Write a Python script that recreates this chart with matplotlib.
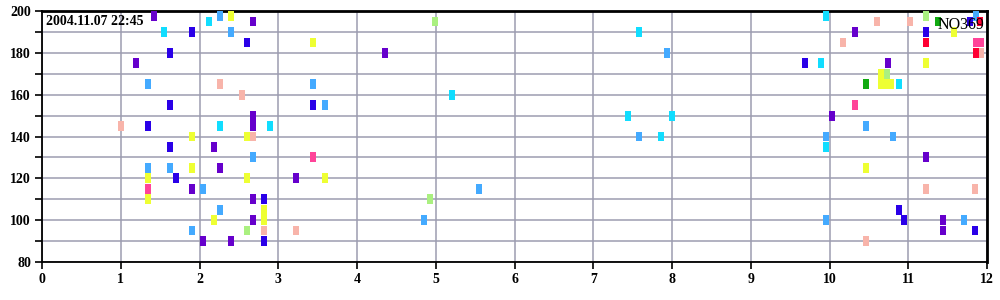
import matplotlib
matplotlib.use("Agg")
import matplotlib.pyplot as plt
from matplotlib.ticker import MultipleLocator

# observation points per colour class: x (hour-ish), y (value)
purple_x = [1.42, 1.19, 1.90, 2.05, 2.19, 2.26, 2.40, 2.675, 2.675, 2.675, 2.675, 2.675,
            3.23, 4.355, 10.03, 10.32, 10.74, 11.22, 11.44, 11.44]
purple_y = [197.5, 175, 115, 90, 135, 125, 90, 195, 150, 145, 110, 100,
            120, 180, 150, 190, 175, 130, 100, 95]

blue_x = [1.34, 1.62, 1.62, 1.62, 1.70, 1.90, 2.60, 2.815, 2.815, 3.445, 9.69, 10.88,
          10.95, 11.22, 11.78, 11.85]
blue_y = [145, 180, 155, 135, 120, 190, 185, 110, 90, 155, 175, 105,
          100, 190, 195, 95]

lblue_x = [1.34, 1.34, 1.62, 1.90, 2.04, 2.26, 2.26, 2.40, 2.675, 3.445, 3.59, 4.85,
           5.55, 7.58, 7.94, 9.96, 9.96, 10.46, 10.81, 11.71, 11.86]
lblue_y = [165, 125, 125, 95, 115, 197.5, 105, 190, 130, 165, 155, 100,
           115, 140, 180, 140, 100, 145, 140, 100, 197.5]

cyan_x = [1.55, 2.12, 2.26, 2.895, 5.21, 7.44, 7.58, 7.86, 8.0, 9.89, 9.96, 9.96, 10.88]
cyan_y = [190, 195, 145, 145, 160, 150, 190, 140, 150, 175, 197.5, 135, 165]

yellow_x = [1.34, 1.34, 1.90, 1.90, 2.19, 2.40, 2.60, 2.60, 2.815, 2.815, 3.445, 3.59,
            10.46, 10.66, 10.66, 10.72, 10.78, 11.22, 11.58]
yellow_y = [120, 110, 140, 125, 100, 197.5, 140, 120, 105, 100, 185, 120,
            125, 170, 165, 165, 165, 175, 190]

salmon_x = [1.0, 2.26, 2.54, 2.675, 2.815, 3.23, 10.17, 10.46, 10.60, 11.02, 11.22, 11.85, 11.92]
salmon_y = [145, 165, 160, 140, 95, 95, 185, 90, 195, 195, 115, 115, 180]

hpink_x = [1.34, 3.445, 10.32, 11.86, 11.92]
hpink_y = [115, 130, 155, 185, 185]

lgreen_x = [2.60, 4.99, 4.93, 10.73, 11.22]
lgreen_y = [95, 195, 110, 170, 197.5]

green_x = [10.46, 11.38]
green_y = [165, 195]

red_x = [11.22, 11.91, 11.86]
red_y = [185, 195, 180]

groups = [
    (purple_x, purple_y, "#6600cc"),
    (blue_x, blue_y, "#2a00e8"),
    (lblue_x, lblue_y, "#44aaff"),
    (cyan_x, cyan_y, "#11ddff"),
    (salmon_x, salmon_y, "#f8b4aa"),
    (hpink_x, hpink_y, "#ff4499"),
    (yellow_x, yellow_y, "#eeff33"),
    (lgreen_x, lgreen_y, "#aaf080"),
    (green_x, green_y, "#11aa11"),
    (red_x, red_y, "#ff0033"),
]

BAR_W = 0.076
BAR_H = 4.7

fig = plt.figure(figsize=(10, 3), dpi=100)
ax = fig.add_axes([0.042, 0.127, 0.945, 0.836])

for xs, ys, col in groups:
    ax.bar(xs, [BAR_H] * len(ys), bottom=[y - BAR_H / 2 for y in ys],
           width=BAR_W, color=col, linewidth=0, zorder=3)

ax.set_xlim(0, 12)
ax.set_ylim(80, 200)
ax.xaxis.set_major_locator(MultipleLocator(1))
ax.yaxis.set_major_locator(MultipleLocator(20))
ax.yaxis.set_minor_locator(MultipleLocator(10))
ax.grid(True, which="both", color="#9c9cb0", lw=1.1, zorder=0)
ax.set_axisbelow(True)

for lab in ax.get_xticklabels() + ax.get_yticklabels():
    lab.set_fontfamily("Liberation Serif")
    lab.set_fontweight("bold")
    lab.set_fontsize(10)
ax.tick_params(which="both", direction="out", length=5, width=1.2, color="black", pad=3)
for sp in ax.spines.values():
    sp.set_color("black")
    sp.set_linewidth(1.3)
ax.spines["top"].set_linewidth(2)
ax.spines["right"].set_linewidth(2)

ax.text(0.004, 0.985, "2004.11.07 22:45", transform=ax.transAxes, ha="left", va="top",
        family="Liberation Serif", fontweight="bold", fontsize=10, zorder=5)
ax.text(0.9975, 0.975, "NO369", transform=ax.transAxes, ha="right", va="top",
        family="Liberation Serif", fontsize=11.5, zorder=5)

fig.savefig("out.png", dpi=100)
